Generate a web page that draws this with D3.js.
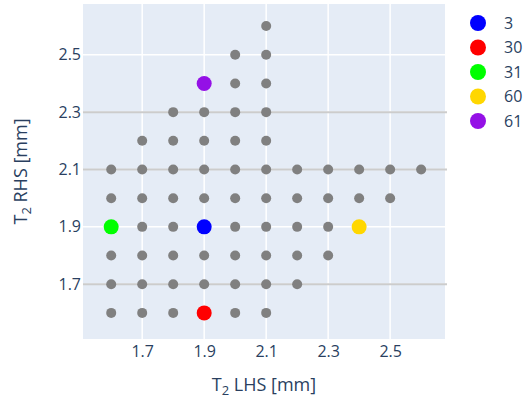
<!DOCTYPE html>
<html>
<head>
<meta charset="utf-8">
<script src="https://cdn.jsdelivr.net/npm/d3@7"></script>
<style>
  body { margin: 0; background: #fff; }
  text { font-family: "Open Sans", sans-serif; fill: #2a3f5f; }
</style>
</head>
<body>
<svg id="chart" width="525" height="400"></svg>
<script>
// grey grid of tested combinations, one row per RHS level
const rhsLevels = [2.6, 2.5, 2.4, 2.3, 2.2, 2.1, 2.0, 1.9, 1.8, 1.7, 1.6];
const lhsByRow = [
  [2.1],
  [2.0, 2.1],
  [1.9, 2.0, 2.1],
  [1.8, 1.9, 2.0, 2.1],
  [1.7, 1.8, 1.9, 2.0, 2.1],
  [1.6, 1.7, 1.8, 1.9, 2.0, 2.1, 2.2, 2.3, 2.4, 2.5, 2.6],
  [1.6, 1.7, 1.8, 1.9, 2.0, 2.1, 2.2, 2.3, 2.4, 2.5],
  [1.6, 1.7, 1.8, 1.9, 2.0, 2.1, 2.2, 2.3, 2.4],
  [1.6, 1.7, 1.8, 1.9, 2.0, 2.1, 2.2, 2.3],
  [1.6, 1.7, 1.8, 1.9, 2.0, 2.1, 2.2],
  [1.6, 1.7, 1.8, 1.9, 2.0, 2.1]
];

// highlighted cases
const caseIds = ["3", "30", "31", "60", "61"];
const caseLhs = [1.9, 1.9, 1.6, 2.4, 1.9];
const caseRhs = [1.9, 1.6, 1.9, 1.9, 2.4];
const caseColors = ["#0000ff", "#ff0000", "#00ff00", "#ffd700", "#9410e6"];

const tickVals = [1.7, 1.9, 2.1, 2.3, 2.5];
const refLines = [2.3, 2.1, 1.7];

const svg = d3.select("#chart");
const plot = { left: 83, right: 445, top: 4, bottom: 339 };

const x = d3.scaleLinear().domain([1.509, 2.677]).range([plot.left, plot.right]);
const y = d3.scaleLinear().domain([1.509, 2.677]).range([plot.bottom, plot.top]);

svg.append("rect")
  .attr("x", plot.left).attr("y", plot.top)
  .attr("width", plot.right - plot.left).attr("height", plot.bottom - plot.top)
  .attr("fill", "#e5ecf6");

// white gridlines
svg.append("g").selectAll("line")
  .data(tickVals)
  .join("line")
  .attr("x1", d => x(d)).attr("x2", d => x(d))
  .attr("y1", plot.top).attr("y2", plot.bottom)
  .attr("stroke", "#fff").attr("stroke-width", 1.5);

svg.append("g").selectAll("line")
  .data(tickVals)
  .join("line")
  .attr("y1", d => y(d)).attr("y2", d => y(d))
  .attr("x1", plot.left).attr("x2", plot.right)
  .attr("stroke", "#fff").attr("stroke-width", 1.5);

// grey horizontal reference lines
svg.append("g").selectAll("line")
  .data(refLines)
  .join("line")
  .attr("y1", d => y(d)).attr("y2", d => y(d))
  .attr("x1", plot.left).attr("x2", plot.right + 2)
  .attr("stroke", "#cccccc").attr("stroke-width", 2);

// axes
const xAxis = svg.append("g")
  .attr("transform", `translate(0,${plot.bottom})`)
  .call(d3.axisBottom(x).tickValues(tickVals).tickSize(0).tickPadding(7).tickFormat(d3.format(".1f")));
const yAxis = svg.append("g")
  .attr("transform", `translate(${plot.left},0)`)
  .call(d3.axisLeft(y).tickValues(tickVals).tickSize(0).tickPadding(2).tickFormat(d3.format(".1f")));
[xAxis, yAxis].forEach(a => {
  a.select(".domain").remove();
  a.selectAll("text").attr("font-size", 16).attr("fill", "#2a3f5f")
    .style("font-family", "'Open Sans', sans-serif");
});

// grey points
const gridPts = [];
rhsLevels.forEach((r, i) => lhsByRow[i].forEach(l => gridPts.push([l, r])));

svg.append("g").selectAll("circle")
  .data(gridPts)
  .join("circle")
  .attr("cx", d => x(d[0]))
  .attr("cy", d => y(d[1]))
  .attr("r", 5)
  .attr("fill", "#808080");

// highlighted points
svg.append("g").selectAll("circle")
  .data(caseIds)
  .join("circle")
  .attr("cx", (d, i) => x(caseLhs[i]))
  .attr("cy", (d, i) => y(caseRhs[i]))
  .attr("r", 7.5)
  .attr("fill", (d, i) => caseColors[i]);

// axis titles
svg.append("text")
  .attr("x", (plot.left + plot.right) / 2)
  .attr("y", 391)
  .attr("text-anchor", "middle")
  .attr("font-size", 18)
  .html('T<tspan font-size="13" dy="4">2</tspan><tspan dy="-4"> LHS [mm]</tspan>');

svg.append("text")
  .attr("transform", `translate(27,${(plot.top + plot.bottom) / 2}) rotate(-90)`)
  .attr("text-anchor", "middle")
  .attr("font-size", 18)
  .html('T<tspan font-size="13" dy="4">2</tspan><tspan dy="-4"> RHS [mm]</tspan>');

// legend
const legend = svg.append("g").selectAll("g")
  .data(caseIds)
  .join("g")
  .attr("transform", (d, i) => `translate(478,${23 + i * 24.5})`);

legend.append("circle")
  .attr("r", 8)
  .attr("fill", (d, i) => caseColors[i]);

legend.append("text")
  .attr("x", 26)
  .attr("dy", "0.35em")
  .attr("font-size", 16)
  .text(d => d);
</script>
</body>
</html>
